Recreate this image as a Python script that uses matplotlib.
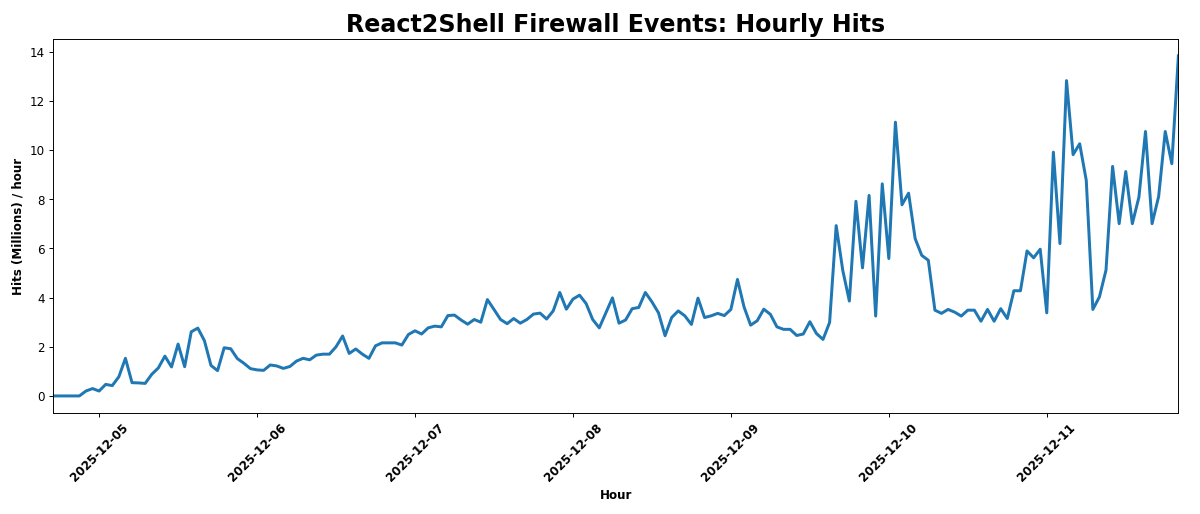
import pandas as pd
import matplotlib.pyplot as plt
import matplotlib.dates as mdates

start = '2025-12-04 17:00'

hits = [
    0.0, 0.0, 0.0, 0.0, 0.0, 0.2, 0.3, 0.2, 0.47, 0.42,
    0.78, 1.53, 0.54, 0.53, 0.51, 0.88, 1.14, 1.62, 1.18, 2.11,
    1.19, 2.61, 2.76, 2.25, 1.24, 1.03, 1.96, 1.92, 1.52, 1.33,
    1.11, 1.06, 1.04, 1.26, 1.22, 1.12, 1.2, 1.42, 1.53, 1.47,
    1.66, 1.7, 1.7, 2.0, 2.44, 1.73, 1.91, 1.7, 1.53, 2.04,
    2.16, 2.16, 2.16, 2.07, 2.5, 2.65, 2.52, 2.77, 2.84, 2.81,
    3.27, 3.29, 3.09, 2.92, 3.11, 3.0, 3.92, 3.52, 3.11, 2.94,
    3.15, 2.96, 3.11, 3.33, 3.37, 3.13, 3.46, 4.21, 3.53, 3.94,
    4.1, 3.76, 3.11, 2.77, 3.38, 3.99, 2.96, 3.09, 3.55, 3.6,
    4.21, 3.83, 3.38, 2.45, 3.19, 3.46, 3.26, 2.91, 3.98, 3.19,
    3.26, 3.36, 3.27, 3.52, 4.74, 3.62, 2.88, 3.06, 3.53, 3.32,
    2.81, 2.71, 2.71, 2.46, 2.52, 3.02, 2.54, 2.3, 2.99, 6.93,
    5.11, 3.86, 7.92, 5.21, 8.16, 3.25, 8.63, 5.59, 11.14, 7.78,
    8.25, 6.4, 5.72, 5.52, 3.49, 3.36, 3.52, 3.41, 3.25, 3.49,
    3.49, 3.04, 3.52, 3.04, 3.55, 3.15, 4.28, 4.28, 5.9, 5.62,
    5.97, 3.38, 9.92, 6.2, 12.83, 9.82, 10.26, 8.77, 3.52, 4.03,
    5.12, 9.34, 7.01, 9.13, 7.01, 8.09, 10.76, 7.01, 8.12, 10.76,
    9.45, 13.84,
]

hours = pd.date_range(start, periods=len(hits), freq='h')

dpi = 1200 / 14
fig, ax = plt.subplots(figsize=(14, 6), dpi=dpi)
ax.plot(hours, hits, color='#1f77b4', linewidth=2.5)
ax.set_xlim(hours[0], hours[-1])

ax.xaxis.set_major_locator(mdates.DayLocator())
ax.xaxis.set_major_formatter(mdates.DateFormatter('%Y-%m-%d'))
plt.setp(ax.get_xticklabels(), rotation=45, fontweight='bold')

ax.set_title('React2Shell Firewall Events: Hourly Hits', fontsize=20, fontweight='bold')
ax.set_xlabel('Hour', fontweight='bold')
ax.set_ylabel('Hits (Millions) / hour', fontweight='bold')

plt.subplots_adjust(left=0.0442, right=0.982, top=0.924, bottom=0.1965)
plt.savefig('out.png', dpi=dpi)
